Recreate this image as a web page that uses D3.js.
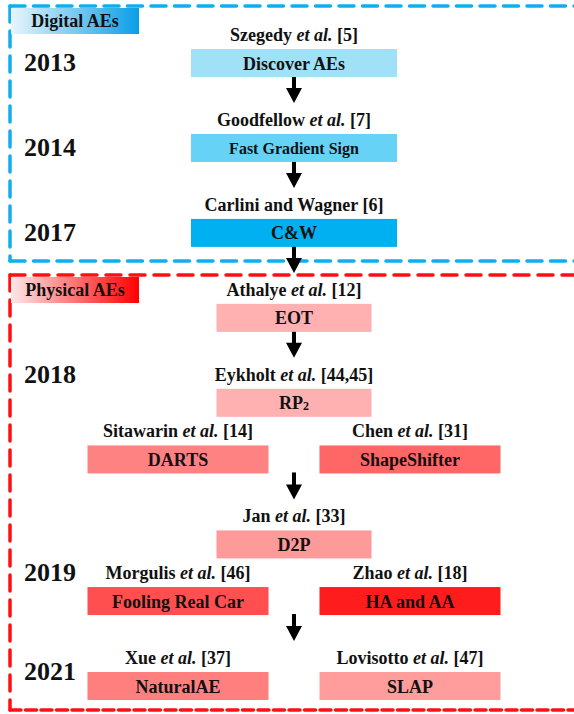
<!DOCTYPE html>
<html>
<head>
<meta charset="utf-8">
<script src="https://cdn.jsdelivr.net/npm/d3@7"></script>
<style>
  html, body { margin: 0; padding: 0; background: #fff; }
  svg { display: block; }
  text { font-family: "Liberation Serif", "Times New Roman", serif; font-weight: bold; fill: #111; }
</style>
</head>
<body>
<div id="chart"></div>
<script>
// ---------------- data ----------------
const methods = ["Discover AEs", "Fast Gradient Sign", "C&W", "EOT", "RP2", "DARTS", "ShapeShifter",
                 "D2P", "Fooling Real Car", "HA and AA", "NaturalAE", "SLAP"];
const authors = ["Szegedy", "Goodfellow", "Carlini and Wagner", "Athalye", "Eykholt", "Sitawarin", "Chen",
                 "Jan", "Morgulis", "Zhao", "Xue", "Lovisotto"];
const etAl    = [true, true, false, true, true, true, true, true, true, true, true, true];
const refs    = ["[5]", "[7]", "[6]", "[12]", "[44,45]", "[14]", "[31]", "[33]", "[46]", "[18]", "[37]", "[47]"];
const groups  = ["Digital", "Digital", "Digital", "Physical", "Physical", "Physical", "Physical",
                 "Physical", "Physical", "Physical", "Physical", "Physical"];
// timeline step (row) and lane of every method
const steps   = [0, 3, 6, 9, 12, 14, 14, 17, 19, 19, 22, 22];
const lanes   = ["C", "C", "C", "C", "C", "L", "R", "C", "L", "R", "L", "R"];
const years     = ["2013", "2014", "2017", "2018", "2019", "2021"];
const yearSteps = [0, 3, 6, 11, 18, 21.5];
const groupNames = ["Digital AEs", "Physical AEs"];
// arrows: source method -> target method
const links = [["Discover AEs", "Fast Gradient Sign"], ["Fast Gradient Sign", "C&W"], ["C&W", "EOT"],
               ["EOT", "RP2"], ["DARTS", "D2P"], ["Fooling Real Car", "NaturalAE"]];

// ---------------- styles ----------------
const fillOf = {
  "Discover AEs": "#a0e1f8", "Fast Gradient Sign": "#66d3f6", "C&W": "#00b0f0",
  "EOT": "#ffb1b1", "RP2": "#ffb1b1", "DARTS": "#ff8282", "ShapeShifter": "#ff6666",
  "D2P": "#ff9a9a", "Fooling Real Car": "#ff4f4f", "HA and AA": "#ff1c1c",
  "NaturalAE": "#ff7f7f", "SLAP": "#ff9c9c"
};
const W = 574, H = 714;

const svg = d3.select("#chart").append("svg").attr("width", W).attr("height", H);

const y = d3.scaleLinear().domain([0, 22]).range([49, 672]);
const x = d3.scalePoint().domain(["L", "C", "R"]).range([178, 410]);
const boxH = 28;
const widthOf = (i) => lanes[i] !== "C" ? 181 : (groups[i] === "Digital" ? 206 : 155);

const nodes = methods.map((m, i) => ({
  method: m, author: authors[i], etal: etAl[i], ref: refs[i], group: groups[i],
  step: steps[i], lane: lanes[i], w: widthOf(i)
}));
const byName = new Map(nodes.map(d => [d.method, d]));

// ---------------- gradients ----------------
const defs = svg.append("defs");
const gradColors = { "Digital AEs": ["#e9f5fb", "#0a9ee6"], "Physical AEs": ["#fbe8e8", "#ff0000"] };
groupNames.forEach((g, i) => {
  const gr = defs.append("linearGradient").attr("id", "grad" + i).attr("x1", "0%").attr("x2", "100%");
  gr.append("stop").attr("offset", "0%").attr("stop-color", gradColors[g][0]);
  gr.append("stop").attr("offset", "100%").attr("stop-color", gradColors[g][1]);
});

// ---------------- dashed group frames ----------------
const frames = [
  { color: "#10aeee", left: 10, top: 6, bottom: 261, dashH: "15,8.5", dashV: "16,9", dashB: "15,8.5" },
  { color: "#ff1010", left: 10, top: 275, bottom: 710, dashH: "15,9", dashV: "16,9", dashB: "11,4.5" }
];
frames.forEach(f => {
  const g = svg.append("g").attr("fill", "none").attr("stroke", f.color)
    .attr("stroke-width", 3.5).attr("stroke-linecap", "round");
  g.append("line").attr("x1", f.left).attr("x2", W + 5).attr("y1", f.top).attr("y2", f.top)
    .attr("stroke-dasharray", f.dashH);
  g.append("line").attr("x1", f.left).attr("x2", f.left).attr("y1", f.top).attr("y2", f.bottom)
    .attr("stroke-dasharray", f.dashV);
  g.append("line").attr("x1", f.left).attr("x2", W + 5).attr("y1", f.bottom).attr("y2", f.bottom)
    .attr("stroke-dasharray", f.dashB);
});

// group label boxes
groupNames.forEach((g, i) => {
  const top = frames[i].top + 2;
  svg.append("rect").attr("x", 11).attr("y", top).attr("width", 128).attr("height", 26)
    .attr("fill", `url(#grad${i})`);
  svg.append("text").attr("x", 75).attr("y", top + 19).attr("text-anchor", "middle")
    .attr("font-size", 18).text(g);
});

// ---------------- arrows ----------------
const cx = x("C");
const arrowLen = 27;
links.forEach(([s]) => {
  const src = byName.get(s);
  const y0 = y(src.step) + boxH - 1;
  const y1 = y0 + arrowLen;
  const headH = 15, headW = 8;
  svg.append("line").attr("x1", cx).attr("x2", cx).attr("y1", y0).attr("y2", y1 - headH + 1)
    .attr("stroke", "#000").attr("stroke-width", 4);
  svg.append("path")
    .attr("d", `M${cx - headW},${y1 - headH} L${cx + headW},${y1 - headH} L${cx},${y1} Z`)
    .attr("fill", "#000");
});

// ---------------- method boxes ----------------
const node = svg.append("g").selectAll("g").data(nodes).join("g")
  .attr("transform", d => `translate(${x(d.lane)},${y(d.step)})`);

node.append("rect")
  .attr("x", d => -d.w / 2).attr("y", 0).attr("width", d => d.w).attr("height", boxH)
  .attr("fill", d => fillOf[d.method]);

node.append("text")
  .attr("text-anchor", "middle").attr("y", 20.5)
  .attr("font-size", d => d.method === "Fast Gradient Sign" ? 16 : 18)
  .each(function (d) {
    const t = d3.select(this);
    if (d.method === "RP2") {
      t.append("tspan").text("RP");
      t.append("tspan").attr("font-size", 12).attr("dy", 1).text("2");
    } else {
      t.text(d.method);
    }
  });

node.append("text")
  .attr("text-anchor", "middle").attr("y", -8).attr("font-size", 18)
  .each(function (d) {
    const t = d3.select(this);
    if (d.etal) {
      t.append("tspan").text(d.author + " ");
      t.append("tspan").attr("font-style", "italic").text("et al.");
      t.append("tspan").text(" " + d.ref);
    } else {
      t.text(d.author + " " + d.ref);
    }
  });

// ---------------- years ----------------
svg.append("g").selectAll("text").data(years).join("text")
  .attr("x", 24).attr("y", (d, i) => y(yearSteps[i]) + 22)
  .attr("font-size", 26).text(d => d);
</script>
</body>
</html>
